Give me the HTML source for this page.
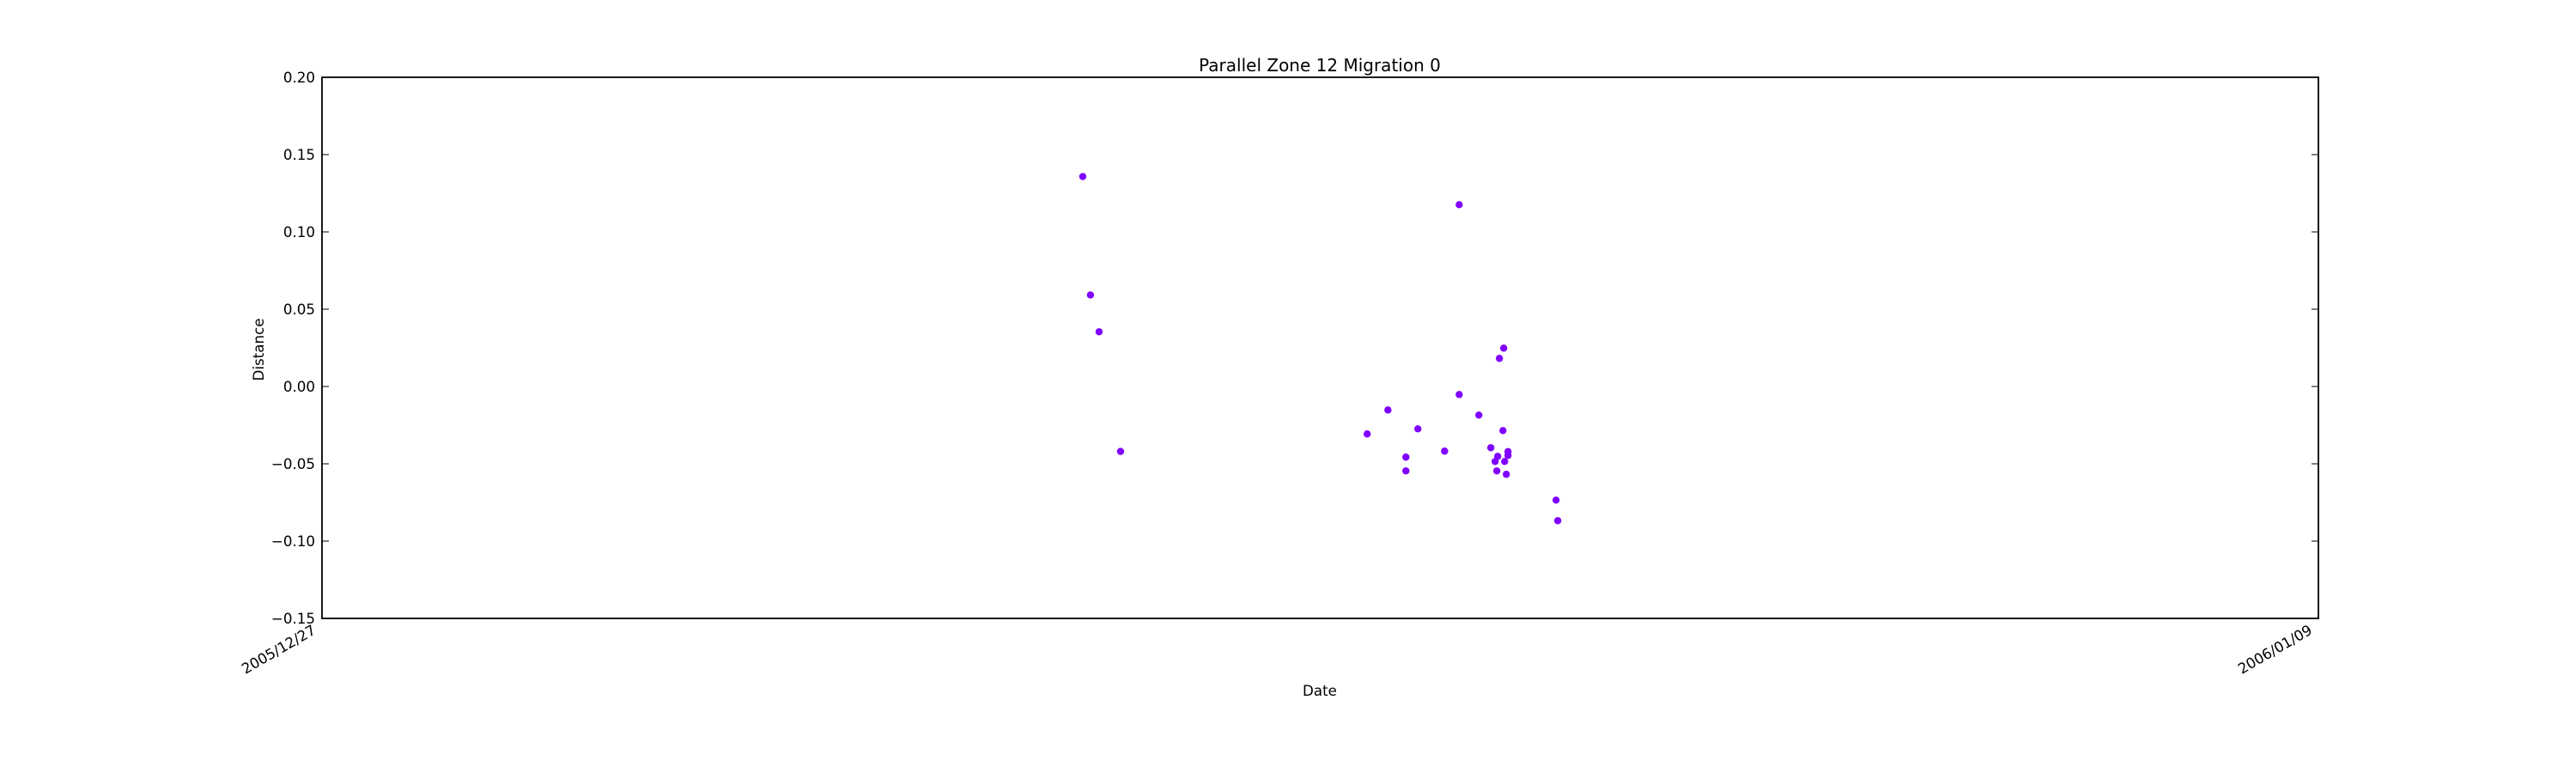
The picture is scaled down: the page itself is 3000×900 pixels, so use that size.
<!DOCTYPE html>
<html><head><meta charset="utf-8"><style>
html,body{margin:0;padding:0;background:#fff;}
svg{display:block;font-family:"DejaVu Sans","Liberation Sans",sans-serif;}
</style></head><body>
<svg id="chart" width="3000" height="900" viewBox="0 0 3000 900" xmlns="http://www.w3.org/2000/svg">
<rect x="0" y="0" width="3000" height="900" fill="#fff"/>
<text x="1537" y="83" font-size="20" text-anchor="middle">Parallel Zone 12 Migration 0</text>
<text x="1537" y="810" font-size="16.7" text-anchor="middle">Date</text>
<text x="307" y="407" font-size="16.7" text-anchor="middle" transform="rotate(-90 307 407)">Distance</text>
<g id="marks"></g>
<g id="axes"></g>
</svg>
<script>
// days since 2005/12/27
const xDays = [4.954,5.004,5.060,5.200,6.806,6.941,7.058,7.058,7.136,7.310,7.405,7.405,7.533,7.611,7.639,7.650,7.656,7.667,7.690,7.695,7.701,7.712,7.723,7.723,8.036,8.047];
const yDist = [0.1358,0.0592,0.0354,-0.0420,-0.0307,-0.0152,-0.0457,-0.0546,-0.0274,-0.0418,0.1176,-0.0052,-0.0185,-0.0396,-0.0485,-0.0546,-0.0452,0.0182,-0.0285,0.0248,-0.0485,-0.0568,-0.0421,-0.0446,-0.0735,-0.0868];
const yTicks = [0.20,0.15,0.10,0.05,0.00,-0.05,-0.10,-0.15];
const yTickLabels = ["0.20","0.15","0.10","0.05","0.00","\u22120.05","\u22120.10","\u22120.15"];
const xTicks = [0,13];
const xTickLabels = ["2005/12/27","2006/01/09"];
const X0=375,X1=2700,Y0=90,Y1=720, XMIN=0,XMAX=13, YMIN=-0.15,YMAX=0.20;
const sx=v=>X0+(v-XMIN)/(XMAX-XMIN)*(X1-X0);
const sy=v=>Y1-(v-YMIN)/(YMAX-YMIN)*(Y1-Y0);
const NS="http://www.w3.org/2000/svg";
const marks=document.getElementById('marks'), axes=document.getElementById('axes');
function mk(tag,attrs,parent){const e=document.createElementNS(NS,tag);for(const k in attrs)e.setAttribute(k,attrs[k]);parent.appendChild(e);return e;}
xDays.forEach((d,i)=>{
  const c=mk('circle',{cx:sx(d),cy:sy(yDist[i]),r:4.2,fill:'#7f00ff'},marks);
  
  
});
const frame=mk('rect',{x:X0,y:Y0,width:X1-X0,height:Y1-Y0,fill:'none',stroke:'#000','stroke-width':1.8},axes);


yTicks.forEach((v,i)=>{
  const y=sy(v);
  const t1=mk('line',{x1:X0,x2:X0+8,y1:y,y2:y,stroke:'#000','stroke-width':1},axes);
  
  
  const t2=mk('line',{x1:X1-8,x2:X1,y1:y,y2:y,stroke:'#000','stroke-width':1},axes);
  
  
  const tx=mk('text',{x:367,y:y+6,'font-size':16.7,'text-anchor':'end'},axes);
  tx.textContent=yTickLabels[i];
  
  
});
xTicks.forEach((v,i)=>{
  const x=sx(v);
  const t1=mk('line',{x1:x,x2:x,y1:Y1,y2:Y1-8,stroke:'#000','stroke-width':1},axes);
  
  
  const t2=mk('line',{x1:x,x2:x,y1:Y0,y2:Y0+8,stroke:'#000','stroke-width':1},axes);
  
  
  const ax=x-6, ay=Y1+17;
  const tx=mk('text',{x:ax,y:ay,'font-size':16.7,'text-anchor':'end',transform:'rotate(-30 '+ax+' '+ay+')'},axes);
  tx.textContent=xTickLabels[i];
  
  
});
</script>
</body></html>
